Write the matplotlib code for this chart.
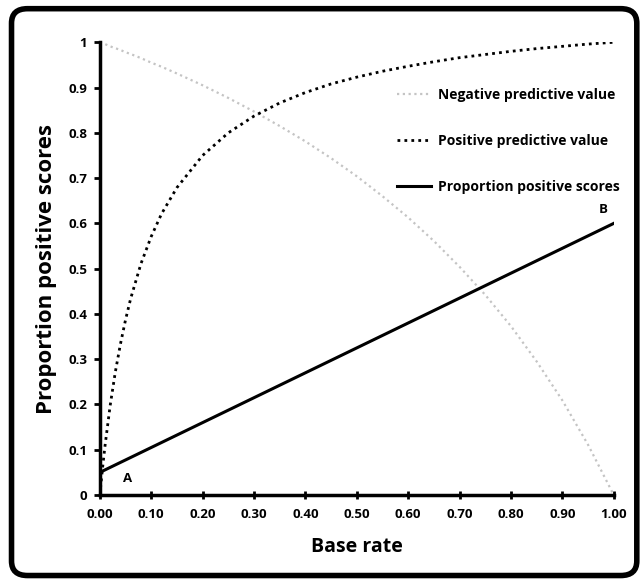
import matplotlib
matplotlib.use("Agg")
import matplotlib.pyplot as plt
from matplotlib.patches import FancyBboxPatch

plt.rcParams['font.family'] = ['Open Sans', 'DejaVu Sans']

base_rate = [0.0, 0.005, 0.01, 0.02, 0.03, 0.04, 0.05, 0.06, 0.08, 0.10, 0.12, 0.15,
             0.20, 0.25, 0.30, 0.35, 0.40, 0.45, 0.50, 0.55, 0.60, 0.65, 0.70,
             0.75, 0.80, 0.85, 0.90, 0.95, 1.00]
npv = [1.0, 0.998, 0.996, 0.991, 0.987, 0.983, 0.978, 0.974, 0.965, 0.955, 0.946, 0.931,
       0.905, 0.877, 0.847, 0.815, 0.781, 0.744, 0.704, 0.660, 0.613, 0.561, 0.504,
       0.442, 0.373, 0.295, 0.209, 0.111, 0.0]
ppv = [0.0, 0.057, 0.108, 0.197, 0.271, 0.333, 0.387, 0.434, 0.511, 0.571, 0.621, 0.679,
       0.750, 0.800, 0.837, 0.866, 0.889, 0.908, 0.923, 0.936, 0.947, 0.957, 0.966,
       0.973, 0.980, 0.986, 0.991, 0.996, 1.0]
prop_x = [0.0, 1.0]
prop_pos = [0.05, 0.60]

xticks = [0.0, 0.1, 0.2, 0.3, 0.4, 0.5, 0.6, 0.7, 0.8, 0.9, 1.0]
yticks = [0, 0.1, 0.2, 0.3, 0.4, 0.5, 0.6, 0.7, 0.8, 0.9, 1]
ytick_labels = ["0", "0.1", "0.2", "0.3", "0.4", "0.5", "0.6", "0.7", "0.8", "0.9", "1"]

fig = plt.figure(figsize=(6.4, 5.79), dpi=100)
ax = fig.add_axes([0.156, 0.145, 0.803, 0.782])

ax.plot(base_rate, npv, color="#c4c4c4", lw=1.6, linestyle=(0, (1, 1.6)),
        label="Negative predictive value")
ax.plot(base_rate, ppv, color="black", lw=2.0, linestyle=(0, (1, 1.5)),
        label="Positive predictive value")
ax.plot(prop_x, prop_pos, color="black", lw=2.2, label="Proportion positive scores")

ax.text(0.053, 0.037, "A", fontsize=9.5, fontweight="bold", ha="center", va="center")
ax.text(0.98, 0.63, "B", fontsize=9.5, fontweight="bold", ha="center", va="center")

ax.set_xlim(0, 1.0)
ax.set_ylim(0, 1.0)
ax.set_xticks(xticks)
ax.set_xticklabels(["%.2f" % v for v in xticks])
ax.set_yticks(yticks)
ax.set_yticklabels(ytick_labels)
for lab in ax.get_xticklabels() + ax.get_yticklabels():
    lab.set_fontweight("bold")
    lab.set_fontsize(9.5)
ax.tick_params(direction="inout", length=6, width=2, pad=6)
ax.tick_params(axis="y", direction="out", length=4, pad=5)

for side in ["top", "right"]:
    ax.spines[side].set_visible(False)
for side in ["left", "bottom"]:
    ax.spines[side].set_linewidth(2.5)
    ax.spines[side].set_capstyle("projecting")

ax.set_xlabel("Base rate", fontsize=14, fontweight="bold", labelpad=12)
ax.set_ylabel("Proportion positive scores", fontsize=16, fontweight="bold", labelpad=8)

ax.legend(loc="upper left", bbox_to_anchor=(0.553, 0.927), frameon=False,
          handlelength=2.5, labelspacing=2.3, handletextpad=0.5,
          prop={"weight": "bold", "size": 10})

# rounded frame around the whole figure
frame = FancyBboxPatch((0.018, 0.006), 0.977, 0.979, transform=fig.transFigure,
                       boxstyle="round,pad=0,rounding_size=0.025",
                       fill=False, edgecolor="black", linewidth=4)
fig.patches.append(frame)

fig.savefig("out.png", dpi=100)
